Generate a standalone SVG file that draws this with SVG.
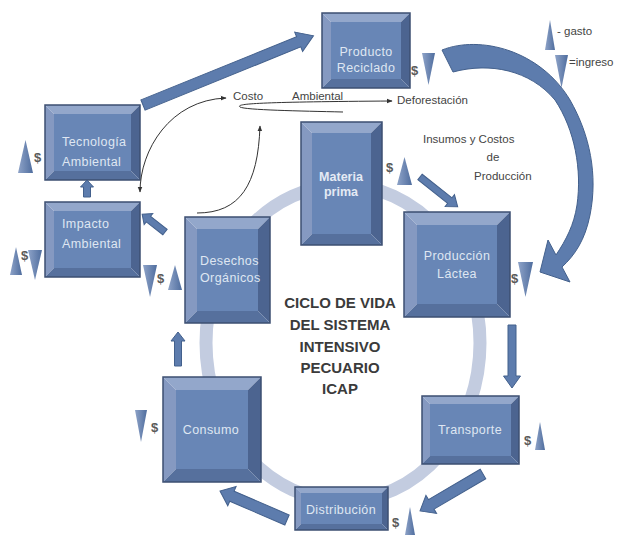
<svg xmlns="http://www.w3.org/2000/svg" width="635" height="535" viewBox="0 0 635 535">
<style>
.bt{fill:#93a7cb}
.bl{fill:#8599c1}
.br{fill:#4c6490}
.bb{fill:#56709d}
.face{fill:#6886b6}
.ol{fill:none;stroke:#3d4f72;stroke-width:1.5}
.nt{font-family:"Liberation Sans",Arial,sans-serif;font-size:12.5px;fill:#dfe6f2;letter-spacing:0.4px}
.ntb{font-family:"Liberation Sans",Arial,sans-serif;font-size:12.5px;font-weight:bold;fill:#e4eaf4}
.blk{fill:#5d7cad;stroke:#43608c;stroke-width:1}
.thin{fill:none;stroke:#333;stroke-width:1}
.lbl{font-family:"Liberation Sans",Arial,sans-serif;font-size:11.5px;fill:#444}
.dol{font-family:"Liberation Sans",Arial,sans-serif;font-size:13px;font-weight:bold;fill:#5a5a5a}
.tri{fill:url(#tg)}
.ctr{font-family:"Liberation Sans",Arial,sans-serif;font-size:15px;font-weight:bold;fill:#3b3b3b;text-anchor:middle}
</style>
<defs>
<linearGradient id="tg" x1="0" y1="0" x2="1" y2="0">
<stop offset="0" stop-color="#8ea3c8"/>
<stop offset="1" stop-color="#4f6d9e"/>
</linearGradient>
<marker id="ah" viewBox="0 0 10 10" refX="9" refY="5" markerWidth="6" markerHeight="6" orient="auto-start-reverse">
<path d="M0,1 L10,5 L0,9 z" fill="#333"/>
</marker>
</defs>
<rect width="635" height="535" fill="#ffffff"/>

<ellipse id="ring" cx="343" cy="343" rx="137" ry="158" fill="none" stroke="#c3cce0" stroke-width="13"/>

<g id="producto-reciclado">
<polygon class="bt" points="322,13 410,13 401,22 331,22"/>
<polygon class="bl" points="322,13 331,22 331,79 322,88"/>
<polygon class="br" points="410,13 410,88 401,79 401,22"/>
<polygon class="bb" points="322,88 410,88 401,79 331,79"/>
<rect class="face" x="331" y="22" width="70" height="57"/>
<rect class="ol" x="322" y="13" width="88" height="75"/>
<text class="nt" x="366" y="56" text-anchor="middle">Producto</text>
<text class="nt" x="366" y="72" text-anchor="middle">Reciclado</text>
</g>

<g id="tecnologia-ambiental">
<polygon class="bt" points="45,105 140,105 131,114 54,114"/>
<polygon class="bl" points="45,105 54,114 54,171 45,180"/>
<polygon class="br" points="140,105 140,180 131,171 131,114"/>
<polygon class="bb" points="45,180 140,180 131,171 54,171"/>
<rect class="face" x="54" y="114" width="77" height="57"/>
<rect class="ol" x="45" y="105" width="95" height="75"/>
<text class="nt" x="62" y="146">Tecnología</text>
<text class="nt" x="62" y="166">Ambiental</text>
</g>

<g id="impacto-ambiental">
<polygon class="bt" points="45,202 140,202 131,211 54,211"/>
<polygon class="bl" points="45,202 54,211 54,268 45,277"/>
<polygon class="br" points="140,202 140,277 131,268 131,211"/>
<polygon class="bb" points="45,277 140,277 131,268 54,268"/>
<rect class="face" x="54" y="211" width="77" height="57"/>
<rect class="ol" x="45" y="202" width="95" height="75"/>
<text class="nt" x="62" y="228">Impacto</text>
<text class="nt" x="62" y="248">Ambiental</text>
</g>

<g id="desechos-organicos">
<polygon class="bt" points="185,217 270,217 258,229 197,229"/>
<polygon class="bl" points="185,217 197,229 197,311 185,323"/>
<polygon class="br" points="270,217 270,323 258,311 258,229"/>
<polygon class="bb" points="185,323 270,323 258,311 197,311"/>
<rect class="face" x="197" y="229" width="61" height="82"/>
<rect class="ol" x="185" y="217" width="85" height="106"/>
<text class="nt" x="200" y="265">Desechos</text>
<text class="nt" x="200" y="282">Orgánicos</text>
</g>

<g id="materia-prima">
<polygon class="bt" points="301,122 382,122 371,133 312,133"/>
<polygon class="bl" points="301,122 312,133 312,234 301,245"/>
<polygon class="br" points="382,122 382,245 371,234 371,133"/>
<polygon class="bb" points="301,245 382,245 371,234 312,234"/>
<rect class="face" x="312" y="133" width="59" height="101"/>
<rect class="ol" x="301" y="122" width="81" height="123"/>
<text class="ntb" x="341" y="181" text-anchor="middle">Materia</text>
<text class="ntb" x="341" y="196" text-anchor="middle">prima</text>
</g>

<g id="produccion-lactea">
<polygon class="bt" points="404,212 510,212 497,225 417,225"/>
<polygon class="bl" points="404,212 417,225 417,304 404,317"/>
<polygon class="br" points="510,212 510,317 497,304 497,225"/>
<polygon class="bb" points="404,317 510,317 497,304 417,304"/>
<rect class="face" x="417" y="225" width="80" height="79"/>
<rect class="ol" x="404" y="212" width="106" height="105"/>
<text class="nt" x="457" y="260" text-anchor="middle">Producción</text>
<text class="nt" x="457" y="278" text-anchor="middle">Láctea</text>
</g>

<g id="transporte">
<polygon class="bt" points="422,396 519,396 511,404 430,404"/>
<polygon class="bl" points="422,396 430,404 430,456 422,464"/>
<polygon class="br" points="519,396 519,464 511,456 511,404"/>
<polygon class="bb" points="422,464 519,464 511,456 430,456"/>
<rect class="face" x="430" y="404" width="81" height="52"/>
<rect class="ol" x="422" y="396" width="97" height="68"/>
<text class="nt" x="470" y="434" text-anchor="middle">Transporte</text>
</g>

<g id="distribucion">
<polygon class="bt" points="295,487 388,487 382,493 301,493"/>
<polygon class="bl" points="295,487 301,493 301,524 295,530"/>
<polygon class="br" points="388,487 388,530 382,524 382,493"/>
<polygon class="bb" points="295,530 388,530 382,524 301,524"/>
<rect class="face" x="301" y="493" width="81" height="31"/>
<rect class="ol" x="295" y="487" width="93" height="43"/>
<text class="nt" x="341" y="514" text-anchor="middle">Distribución</text>
</g>

<g id="consumo">
<polygon class="bt" points="163,377 261,377 248,390 176,390"/>
<polygon class="bl" points="163,377 176,390 176,469 163,482"/>
<polygon class="br" points="261,377 261,482 248,469 248,390"/>
<polygon class="bb" points="163,482 261,482 248,469 176,469"/>
<rect class="face" x="176" y="390" width="72" height="79"/>
<rect class="ol" x="163" y="377" width="98" height="105"/>
<text class="nt" x="211" y="434" text-anchor="middle">Consumo</text>
</g>

<g id="connectors">
<polygon class="blk" transform="translate(143,105) rotate(-22.1)" points="0,-5.5 168,-5.5 168,-10.5 184,0 168,10.5 168,5.5 0,5.5"/>
<path class="blk" d="M442,50 C480,35 540,50 570,100 C590,135 598,175 590,215 C585,240 575,255 562,267 L570,282 L540,272 L548,240 L556,255 C566,240 574,225 577,205 C582,170 575,130 555,100 C530,70 490,62 453,72 Z"/>
<polygon class="blk" transform="translate(420,177) rotate(38.3)" points="0,-3.5 38,-3.5 38,-7.5 48,0 38,7.5 38,3.5 0,3.5"/>
<polygon class="blk" transform="translate(512,325) rotate(90)" points="0,-4 51,-4 51,-8.5 63,0 51,8.5 51,4 0,4"/>
<polygon class="blk" transform="translate(483,474) rotate(149.6)" points="0,-5.5 60,-5.5 60,-10.5 73,0 60,10.5 60,5.5 0,5.5"/>
<polygon class="blk" transform="translate(287,520) rotate(203.4)" points="0,-5.5 60,-5.5 60,-10.5 73,0 60,10.5 60,5.5 0,5.5"/>
<polygon class="blk" transform="translate(178,366) rotate(-90)" points="0,-3.5 25,-3.5 25,-7 34,0 25,7 25,3.5 0,3.5"/>
<polygon class="blk" transform="translate(165,232) rotate(218)" points="0,-3.5 21,-3.5 21,-7 29,0 21,7 21,3.5 0,3.5"/>
<polygon class="blk" transform="translate(87,197) rotate(-90)" points="0,-3.5 10,-3.5 10,-6.5 17,0 10,6.5 10,3.5 0,3.5"/>
<path class="thin" d="M140,192 C140,150 170,100 226,98" marker-start="url(#ah)" marker-end="url(#ah)"/>
<path class="thin" d="M197,213 C240,213 258,185 260,126" marker-end="url(#ah)"/>
<path class="thin" d="M343,112 C300,111 245,110 240,107 C236,104 250,102 392,101" marker-end="url(#ah)"/>
</g>

<g id="labels">
<text class="lbl" x="233" y="100" font-size="11">Costo</text>
<text class="lbl" x="292" y="100" font-size="11">Ambiental</text>
<text class="lbl" x="397" y="104">Deforestación</text>
<text class="lbl" x="423" y="143">Insumos y Costos</text>
<text class="lbl" x="493" y="161" text-anchor="middle">de</text>
<text class="lbl" x="474" y="180">Producción</text>
<text class="ctr" x="340" y="308">CICLO DE VIDA</text>
<text class="ctr" x="340" y="330">DEL SISTEMA</text>
<text class="ctr" x="340" y="352">INTENSIVO</text>
<text class="ctr" x="340" y="373">PECUARIO</text>
<text class="ctr" x="340" y="394">ICAP</text>
</g>

<g id="costs">
<polygon class="tri" points="25.5,140 33,173 18,173"/>
<text class="dol" x="34" y="162">$</text>
<polygon class="tri" points="16,247 22,275 10,275"/>
<text class="dol" x="21" y="260">$</text>
<polygon class="tri" points="28,250 42,250 35,280"/>
<polygon class="tri" points="143,265 157,265 150,297"/>
<text class="dol" x="157" y="283">$</text>
<polygon class="tri" points="175,265 182,290 168,290"/>
<text class="dol" x="386" y="172">$</text>
<polygon class="tri" points="404.5,157 412,185 397,185"/>
<text class="dol" x="511" y="283">$</text>
<polygon class="tri" points="518,262 533,262 525.5,297"/>
<text class="dol" x="411" y="75">$</text>
<polygon class="tri" points="422,53 435,53 428.5,85"/>
<text class="dol" x="524" y="445">$</text>
<polygon class="tri" points="540,422 545,450 535,450"/>
<text class="dol" x="392" y="527">$</text>
<polygon class="tri" points="410,507 415,535 405,535"/>
<polygon class="tri" points="135,410 147,410 141,442"/>
<text class="dol" x="151" y="432">$</text>
</g>

<g id="legend">
<polygon class="tri" points="550,20 555,50 545,50"/>
<text class="lbl" x="557" y="35" font-size="12">- gasto</text>
<polygon class="tri" points="555,55 568,55 561.5,88"/>
<text class="lbl" x="569" y="66" font-size="12">=ingreso</text>
</g>
</svg>
